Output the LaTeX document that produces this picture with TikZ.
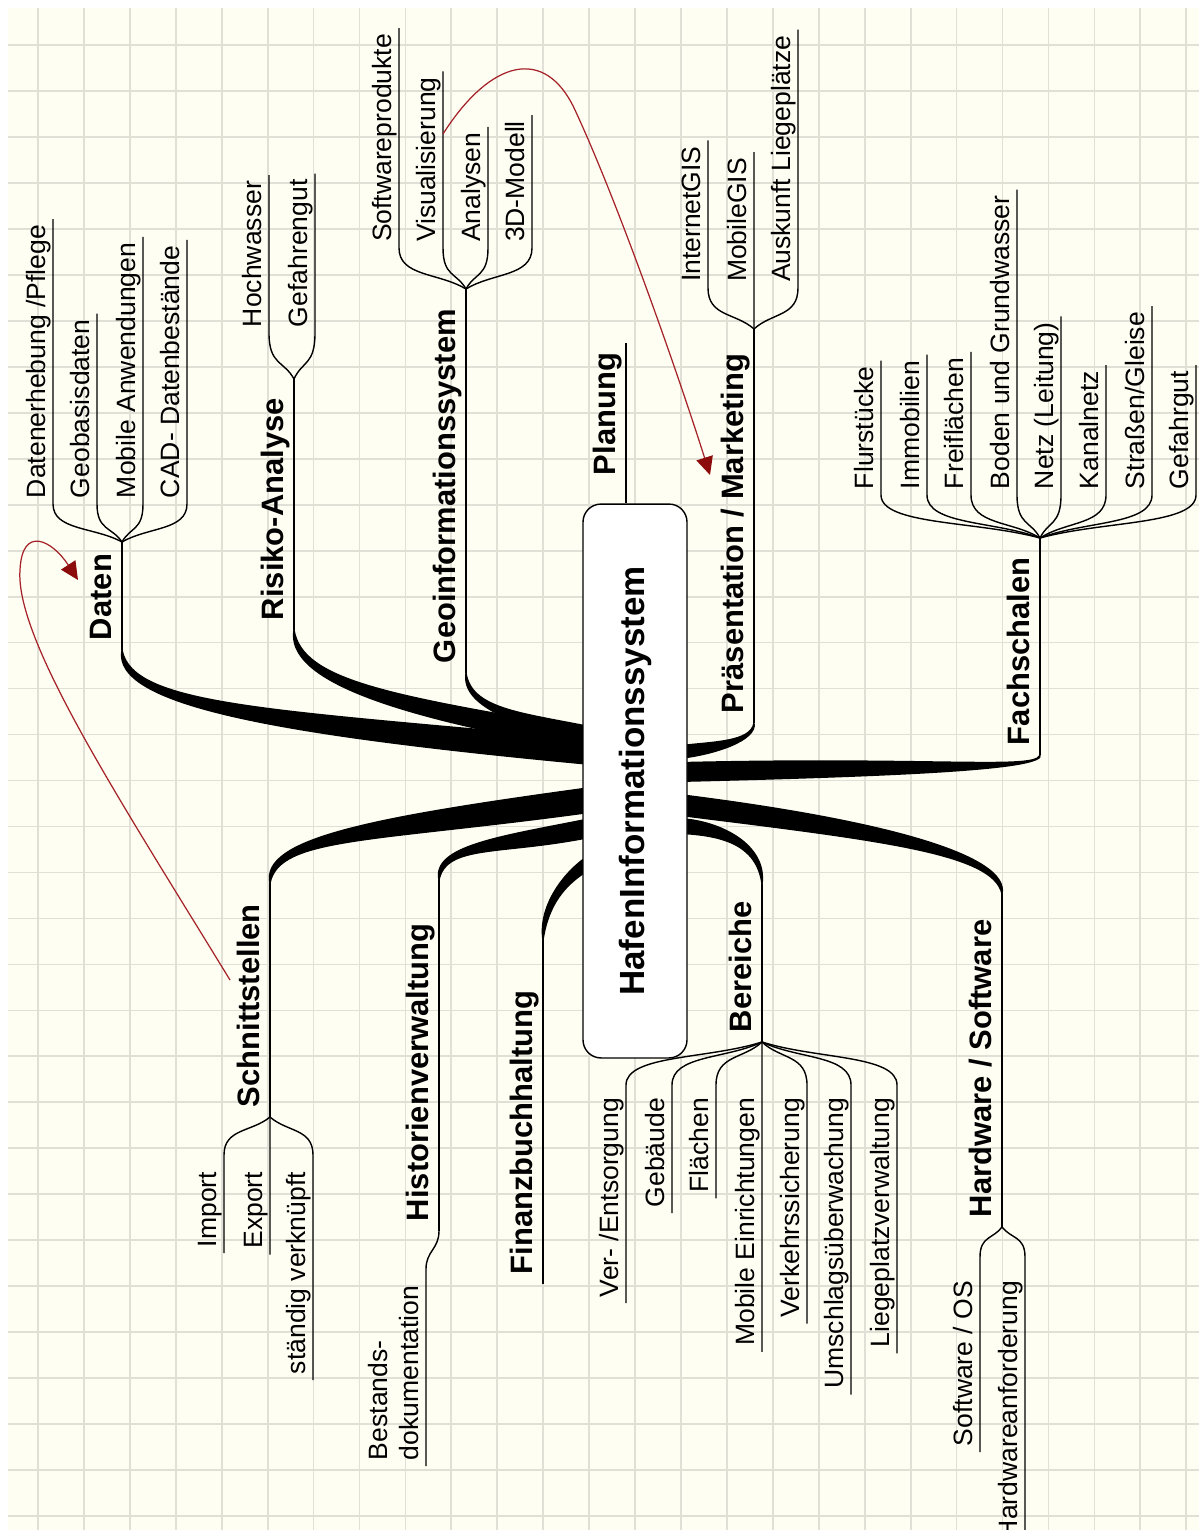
\documentclass[tikz,border=0pt]{standalone}
\usepackage{fontspec}
\setmainfont{Liberation Sans}
\usetikzlibrary{calc,arrows.meta}
\definecolor{paper}{RGB}{254,254,243}
\definecolor{gridline}{RGB}{224,224,214}
\definecolor{linkred}{RGB}{165,35,40}
\definecolor{tipred}{RGB}{140,12,12}

\tikzset{
  kid/.style={rotate=90, font=\fontsize{15.1}{17.5}\selectfont, inner xsep=0.12cm,
    inner ysep=0.6pt, outer sep=0pt, text depth=3.8pt},
  topic/.style={rotate=90, font=\bfseries\fontsize{17.6}{20}\selectfont, inner xsep=0.2cm,
    inner ysep=1.5pt, outer sep=0pt, text depth=4.4pt},
  twig/.style={line width=0.8pt},
  link/.style={draw=linkred, line width=0.7pt,
    -{Triangle[length=0.36cm,width=0.34cm,color=tipred]}},
  gridrule/.style={draw=gridline, line width=1pt},
}

% tapered main branch: #1 start, #2 end, #3 first control drop,
% #4/#5 second control offset from end, #6 signed half width at end, #7 bend spread
\newcommand\limb[7]{%
  \fill ($(#1)+(-0.7,0)$) .. controls ($(#1)+(-#7,#3)$) and ($(#2)+(#4,{#5+(#6)})$) ..
    ($(#2)+(0,#6)$) -- ($(#2)+(0,{-(#6)})$) .. controls ($(#2)+(#4,{#5-(#6)})$) and ($(#1)+(#7,#3)$) ..
    ($(#1)+(0.7,0)$) -- cycle;}
% child above its fork: curve from fork to the start of the underline
\newcommand\kidup[2]{%
  \draw[twig] (#2) .. controls ($(#2)!0.4!(#1.south west)$) and ($(#1.south west)!0.7!(#1.south west |- #2)$) ..
    (#1.south west) -- (#1.south east);}
% child below its fork: #3 = straight piece before the text end
\newcommand\kiddown[3]{%
  \coordinate (#1c) at ($(#1.south east)+(0,-#3)$);
  \draw[twig] (#2) .. controls ($(#2)!0.4!(#1c)$) and ($(#1c)!0.7!(#1c |- #2)$) ..
    (#1c) -- (#1.south west);}

\begin{document}
\begin{tikzpicture}[x=0.02cm, y=-0.02cm]
\useasboundingbox (0,0) rectangle (1199,1530);
\clip (0,0) rectangle (1199,1530);
\fill[white] (0,0) rectangle (1199,1530);
\fill[paper] (8,8) rectangle (1199,1530);
\foreach \i in {0,...,25} \draw[gridrule] ({38+45.93*\i},8) -- ({38+45.93*\i},1530);
\foreach \j in {0,...,32} \draw[gridrule] (8,{45+45.97*\j}) -- (1199,{45+45.97*\j});

% ---------- main topics ----------
\node[topic, anchor=south west] (daten) at (122,650) {Daten};
\node[topic, anchor=south west] (risk)  at (294,630) {Risiko-Analyse};
\node[topic, anchor=south west] (geo)   at (466,673) {Geoinformationssystem};
\node[topic, anchor=south west] (plan)  at (626,485) {Planung};
\node[topic, anchor=south west] (pres)  at (754,723) {Präsentation / Marketing};
\node[topic, anchor=south west] (fach)  at (1040,755) {Fachschalen};
\node[topic, anchor=south west] (schn)  at (270,1117) {Schnittstellen};
\node[topic, anchor=south west] (hist)  at (439,1231) {Historienverwaltung};
\node[topic, anchor=south west] (fin)   at (543,1284) {Finanzbuchhaltung};
\node[topic, anchor=south west] (ber)   at (762,1042) {Bereiche};
\node[topic, anchor=south west] (hw)    at (1002,1227) {Hardware / Software};

% forks and branch ends
\coordinate (fD) at (122,542);
\coordinate (fR) at (294,379);
\coordinate (fG) at (466,289);
\coordinate (fP) at (754,329);
\coordinate (fF) at (1040,538);
\coordinate (sS) at (270,883);
\coordinate (hS) at (439,880);
\coordinate (finS) at (543,940);
\coordinate (bS) at (762,884);
\coordinate (hwS) at (1002,894);

\draw[twig] (daten.south west) -- (fD);
\draw[twig] (risk.south west) -- (fR);
\draw[twig] (geo.south west) -- (fG);
\draw[twig] (pres.south west) -- (fP);
\draw[twig] (fach.south west) -- (fF);
\draw[twig] (schn.south west) -- (sS);
\draw[twig] (hist.south west) -- (hS);
\draw[twig] (fin.south west) -- (finS);
\draw[twig] (ber.south west) -- (bS);
\draw[twig] (hw.south west) -- (hwS);

% tapered branches into the central box
\coordinate (eD) at (590,752);
\coordinate (eR) at (590,740);
\coordinate (eG) at (590,734);
\coordinate (eS) at (590,800);
\coordinate (eH) at (590,828);
\coordinate (eF) at (590,862);
\coordinate (eP) at (680,752);
\coordinate (eFa) at (680,772);
\coordinate (eB) at (680,826);
\coordinate (eHw) at (680,805);
\limb{daten.south west}{eD}{55}{-320}{-30}{13}{11}
\limb{risk.south west}{eR}{50}{-200}{-34}{11}{9}
\limb{geo.south west}{eG}{35}{-70}{-14}{8}{6}
\limb{sS}{eS}{-45}{-220}{30}{-13}{10}
\limb{hS}{eH}{-35}{-90}{18}{-10}{8}
\limb{finS}{eF}{-35}{-25}{15}{-8}{6}
\limb{pres.south west}{eP}{18}{35}{-4}{-7}{4}
\limb{fach.south west}{eFa}{14}{250}{-6}{-10}{6}
\limb{bS}{eB}{-40}{40}{2}{8}{6}
\limb{hwS}{eHw}{-40}{200}{25}{11}{9}

% central topic
\node[rotate=90, draw=black, line width=0.8pt, fill=white, rounded corners=0.36cm,
  minimum width=11.08cm, minimum height=2.08cm, inner sep=0pt,
  font=\bfseries\fontsize{19.9}{22}\selectfont] (hub) at (635,781) {HafenInformationssystem};
\draw[twig] (plan.south east) -- (plan.south west |- hub.east);

% ---------- Daten ----------
\node[kid, anchor=south west] (d1) at (53,504) {Datenerhebung /Pflege};
\node[kid, anchor=south west] (d2) at (97,504) {Geobasisdaten};
\node[kid, anchor=south west] (d3) at (143,504) {Mobile Anwendungen};
\node[kid, anchor=south west] (d4) at (187,504) {CAD- Datenbestände};
\kidup{d1}{fD} \kidup{d2}{fD} \kidup{d3}{fD} \kidup{d4}{fD}

% ---------- Risiko-Analyse ----------
\node[kid, anchor=south west] (r1) at (269,333) {Hochwasser};
\node[kid, anchor=south west] (r2) at (315,333) {Gefahrengut};
\kidup{r1}{fR} \kidup{r2}{fR}

% ---------- Geoinformationssystem ----------
\node[kid, anchor=south west] (g1) at (399,248) {Softwareprodukte};
\node[kid, anchor=south west] (g2) at (443,248) {Visualisierung};
\node[kid, anchor=south west] (g3) at (488,248) {Analysen};
\node[kid, anchor=south west] (g4) at (532,248) {3D-Modell};
\kidup{g1}{fG} \kidup{g2}{fG} \kidup{g3}{fG} \kidup{g4}{fG}

% ---------- Präsentation / Marketing ----------
\node[kid, anchor=south west] (p1) at (708,288) {InternetGIS};
\node[kid, anchor=south west] (p2) at (754,288) {MobileGIS};
\node[kid, anchor=south west] (p3) at (798,288) {Auskunft Liegeplätze};
\kidup{p1}{fP} \kidup{p2}{fP} \kidup{p3}{fP}

% ---------- Fachschalen ----------
\node[kid, anchor=south west] (f1) at (881,495) {Flurstücke};
\node[kid, anchor=south west] (f2) at (927,495) {Immobilien};
\node[kid, anchor=south west] (f3) at (971,495) {Freiflächen};
\node[kid, anchor=south west] (f4) at (1017,495) {Boden und Grundwasser};
\node[kid, anchor=south west] (f5) at (1061,495) {Netz (Leitung)};
\node[kid, anchor=south west] (f6) at (1106,495) {Kanalnetz};
\node[kid, anchor=south west] (f7) at (1152,495) {Straßen/Gleise};
\node[kid, anchor=south west] (f8) at (1196,495) {Gefahrgut};
\kidup{f1}{fF} \kidup{f2}{fF} \kidup{f3}{fF} \kidup{f4}{fF}
\kidup{f5}{fF} \kidup{f6}{fF} \kidup{f7}{fF} \kidup{f8}{fF}

% ---------- Schnittstellen ----------
\node[kid, anchor=south east] (s1) at (224,1166) {Import};
\node[kid, anchor=south east] (s2) at (270,1166) {Export};
\node[kid, anchor=south east] (s3) at (313,1166) {ständig verknüpft};
\kiddown{s1}{schn.south west}{11} \kiddown{s2}{schn.south west}{11} \kiddown{s3}{schn.south west}{11}

% ---------- Historienverwaltung ----------
\node[kid, anchor=south west, align=left] (best) at (426,1466) {Bestands-\\dokumentation};
\coordinate (bb) at (426,1269);
\draw[twig] (best.south west) -- (bb) .. controls ($(bb)+(0,-18)$) and ($(hist.south west)+(0,18)$) .. (hist.south west);

% ---------- Bereiche ----------
\node[kid, anchor=south east] (b1) at (626,1092) {Ver- /Entsorgung};
\node[kid, anchor=south east] (b2) at (672,1092) {Gebäude};
\node[kid, anchor=south east] (b3) at (716,1092) {Flächen};
\node[kid, anchor=south east] (b4) at (762,1092) {Mobile Einrichtungen};
\node[kid, anchor=south east] (b5) at (807,1092) {Verkehrssicherung};
\node[kid, anchor=south east] (b6) at (851,1092) {Umschlagsüberwachung};
\node[kid, anchor=south east] (b7) at (897,1092) {Liegeplatzverwaltung};
\kiddown{b1}{ber.south west}{7} \kiddown{b2}{ber.south west}{7} \kiddown{b3}{ber.south west}{7}
\kiddown{b4}{ber.south west}{7} \kiddown{b5}{ber.south west}{7} \kiddown{b6}{ber.south west}{7}
\kiddown{b7}{ber.south west}{7}

% ---------- Hardware / Software ----------
\node[kid, anchor=south east] (h1) at (980,1275) {Software / OS};
\node[kid, anchor=south east] (h2) at (1025,1275) {Hardwareanforderung};
\kiddown{h1}{hw.south west}{18} \kiddown{h2}{hw.south west}{18}

% ---------- cross links ----------
\coordinate (r1a) at (230,980);
\coordinate (r1m) at (20,570);
\coordinate (r1b) at (78,580);
\draw[link] (r1a) .. controls (120,800) and (15,640) .. (r1m) .. controls (22,525) and (52,540) .. (r1b);
\coordinate (r2a) at (443,134);
\coordinate (r2m) at (575,110);
\coordinate (r2b) at (710,475);
\draw[link] (r2a) .. controls (490,60) and (545,45) .. (r2m) .. controls (620,207) and (680,380) .. (r2b);
\end{tikzpicture}
\end{document}
